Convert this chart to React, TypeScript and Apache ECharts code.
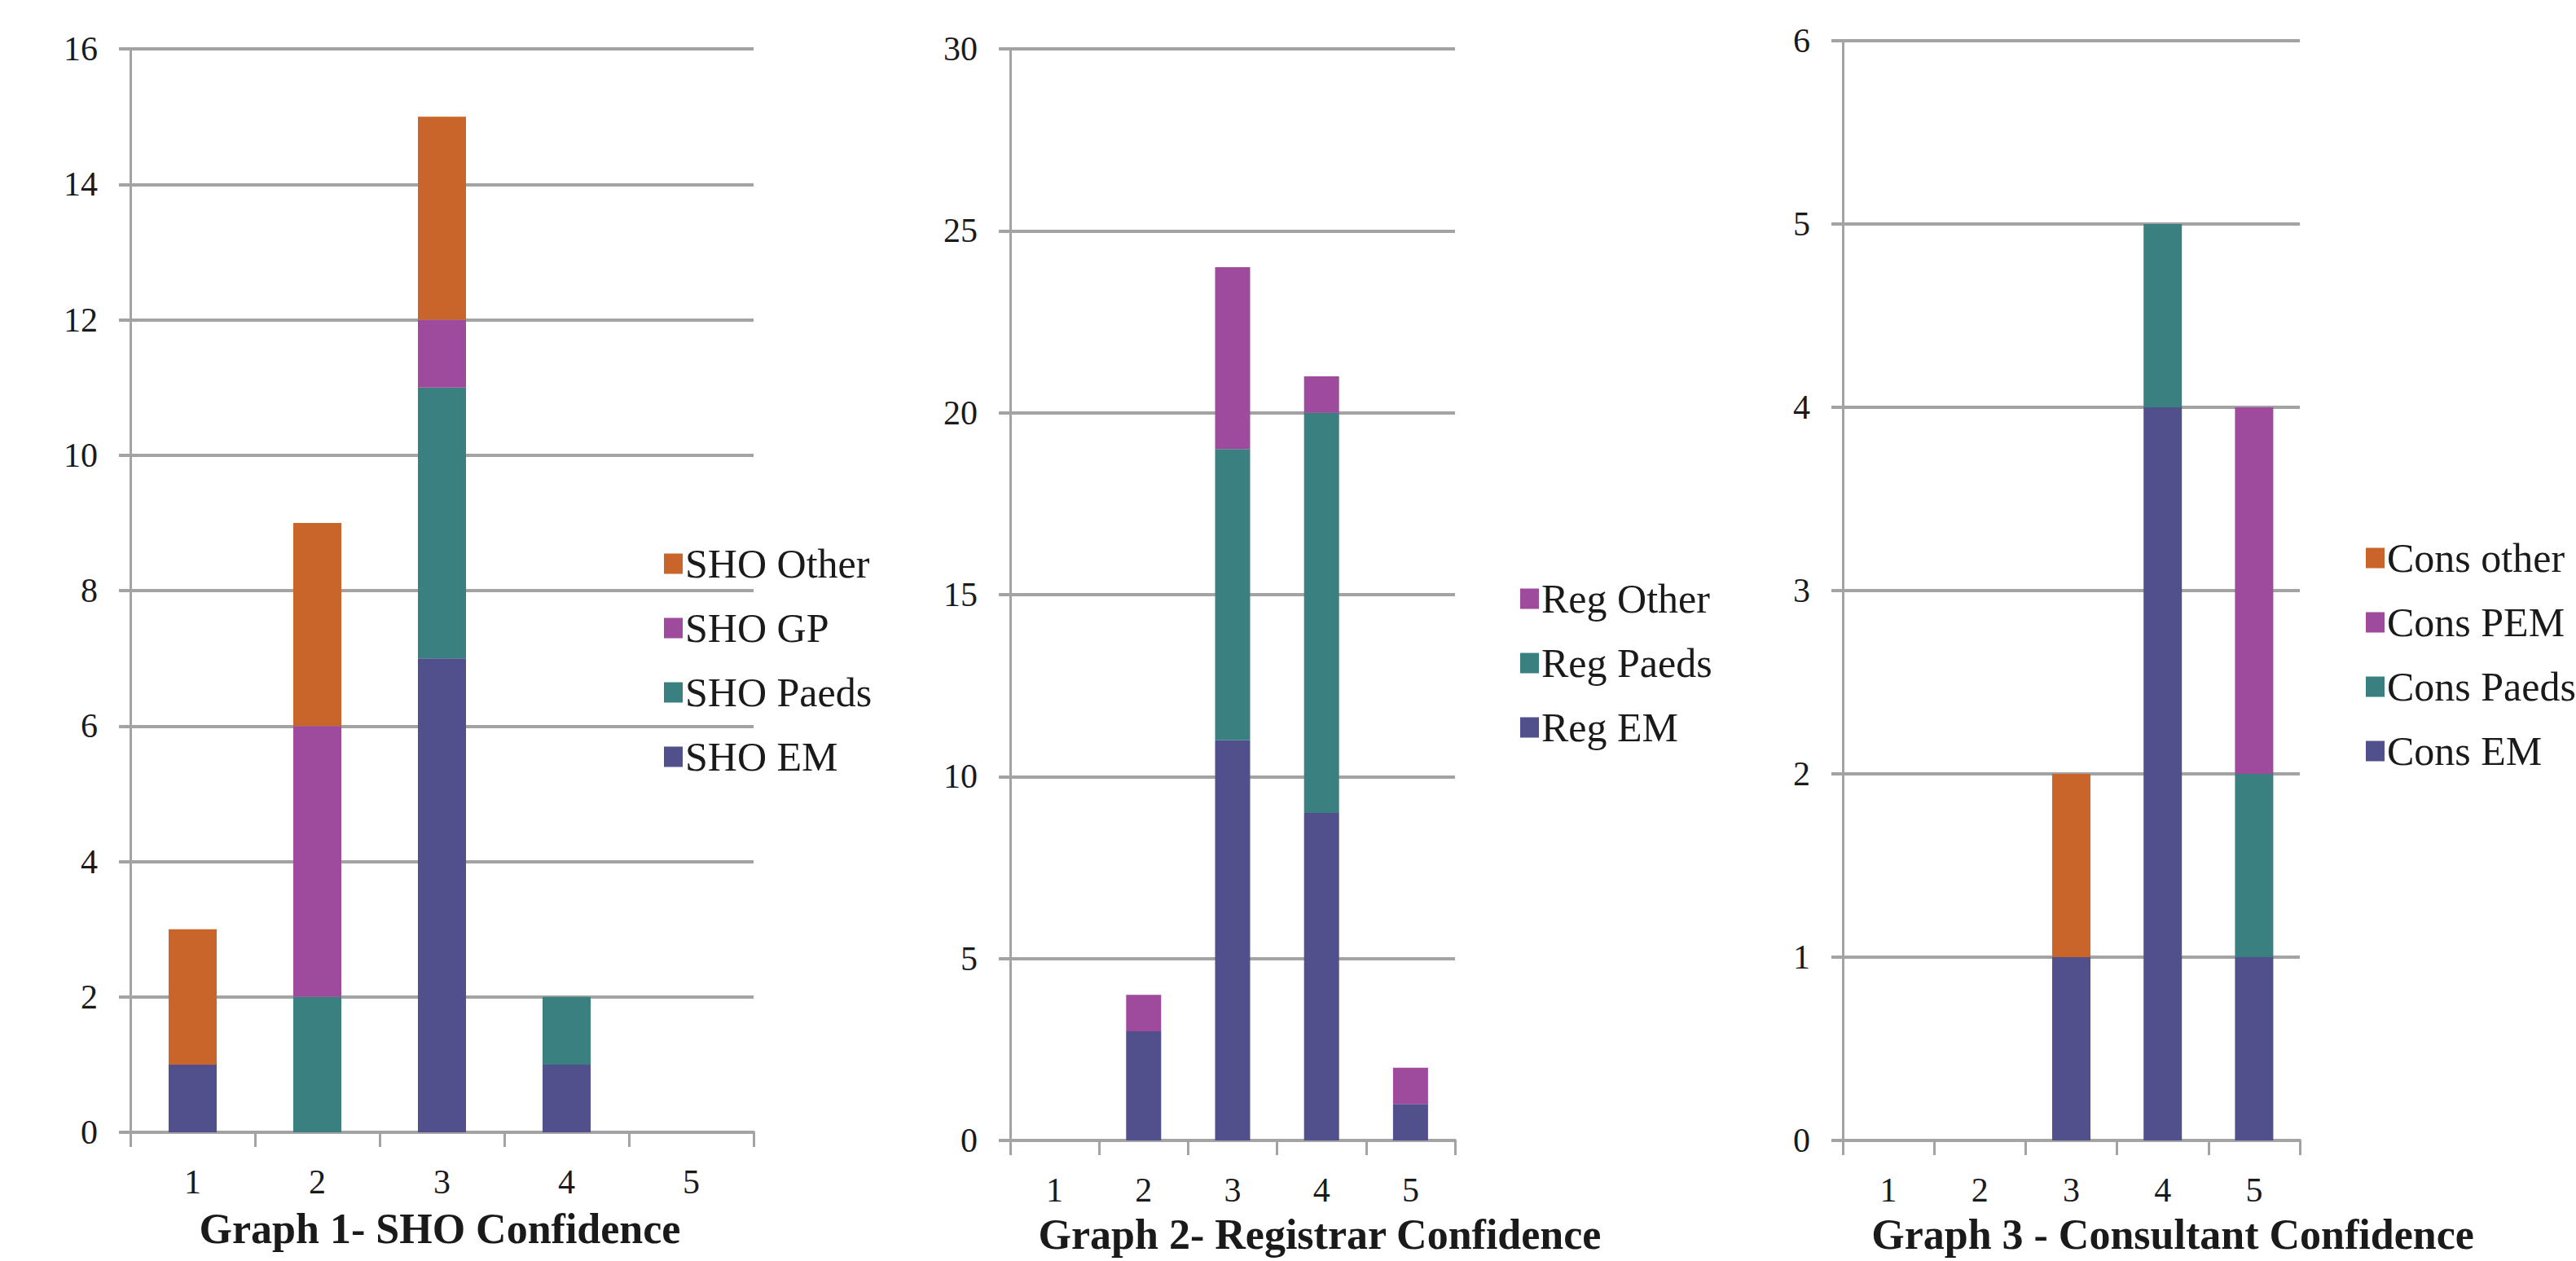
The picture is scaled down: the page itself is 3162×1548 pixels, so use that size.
import React, { useEffect, useRef } from "react";
import * as echarts from "echarts";

// ---- data ----
const categories = ["1", "2", "3", "4", "5"];

const shoEM = [1, 0, 7, 1, 0];
const shoPaeds = [0, 2, 4, 1, 0];
const shoGP = [0, 4, 1, 0, 0];
const shoOther = [2, 3, 3, 0, 0];

const regEM = [0, 3, 11, 9, 1];
const regPaeds = [0, 0, 8, 11, 0];
const regOther = [0, 1, 5, 1, 1];

const consEM = [0, 0, 1, 4, 1];
const consPaeds = [0, 0, 0, 1, 1];
const consPEM = [0, 0, 0, 0, 2];
const consOther = [0, 0, 1, 0, 0];

const titles = [
  "Graph 1- SHO Confidence",
  "Graph 2- Registrar Confidence",
  "Graph 3 - Consultant Confidence",
];

const C_EM = "#524F8D";
const C_PAEDS = "#3B8081";
const C_PURPLE = "#9E4B9E";
const C_ORANGE = "#C9652B";

const FONT = '"Liberation Serif", "Times New Roman", serif';
const GRID_GRAY = "#A3A3A3";
const TEXT = "#1a1a1a";

export default function App() {
  const ref = useRef<HTMLDivElement>(null);

  useEffect(() => {
    document.body.style.margin = "0";
    if (!ref.current) return;
    const chart = echarts.init(ref.current, undefined, { renderer: "svg" });

    const grids = [
      { left: 160, top: 60, width: 765, height: 1330 },
      { left: 1240, top: 60, width: 546, height: 1340 },
      { left: 2262, top: 50, width: 561, height: 1350 },
    ];
    const yMax = [16, 30, 6];
    const yInt = [2, 5, 1];

    const xAxes = grids.map((_, i) => ({
      type: "category",
      gridIndex: i,
      data: categories,
      axisLine: { show: true, lineStyle: { color: GRID_GRAY, width: 4 } },
      axisTick: { show: true, interval: 0, length: 18, lineStyle: { color: GRID_GRAY, width: 3 } },
      axisLabel: { color: TEXT, fontFamily: FONT, fontSize: 42, margin: 40, interval: 0 },
      splitLine: { show: false },
    }));

    const yAxes = grids.map((_, i) => ({
      type: "value",
      gridIndex: i,
      min: 0,
      max: yMax[i],
      interval: yInt[i],
      axisLine: { show: true, lineStyle: { color: GRID_GRAY, width: 3 } },
      axisTick: { show: true, length: 14, lineStyle: { color: GRID_GRAY, width: 4 } },
      axisLabel: { color: TEXT, fontFamily: FONT, fontSize: 42, margin: 40 },
      splitLine: { show: true, lineStyle: { color: GRID_GRAY, width: 4 } },
    }));

    const mk = (name: string, data: number[], idx: number, color: string, stack: string, bw: number) => ({
      name,
      type: "bar",
      xAxisIndex: idx,
      yAxisIndex: idx,
      stack,
      data,
      barWidth: bw,
      itemStyle: { color },
    });

    const series = [
      mk("SHO EM", shoEM, 0, C_EM, "sho", 59),
      mk("SHO Paeds", shoPaeds, 0, C_PAEDS, "sho", 59),
      mk("SHO GP", shoGP, 0, C_PURPLE, "sho", 59),
      mk("SHO Other", shoOther, 0, C_ORANGE, "sho", 59),
      mk("Reg EM", regEM, 1, C_EM, "reg", 43),
      mk("Reg Paeds", regPaeds, 1, C_PAEDS, "reg", 43),
      mk("Reg Other", regOther, 1, C_PURPLE, "reg", 43),
      mk("Cons EM", consEM, 2, C_EM, "cons", 47),
      mk("Cons Paeds", consPaeds, 2, C_PAEDS, "cons", 47),
      mk("Cons PEM", consPEM, 2, C_PURPLE, "cons", 47),
      mk("Cons other", consOther, 2, C_ORANGE, "cons", 47),
    ];

    const legendBase = {
      orient: "vertical",
      icon: "rect",
      itemWidth: 23,
      itemHeight: 25,
      itemGap: 29,
      selectedMode: false,
      textStyle: { color: TEXT, fontFamily: FONT, fontSize: 50, padding: [0, 0, 0, -2] },
    };

    const legends = [
      { ...legendBase, left: 810, top: 662, data: ["SHO Other", "SHO GP", "SHO Paeds", "SHO EM"] },
      { ...legendBase, left: 1861, top: 705, data: ["Reg Other", "Reg Paeds", "Reg EM"] },
      { ...legendBase, left: 2899, top: 655, data: ["Cons other", "Cons PEM", "Cons Paeds", "Cons EM"] },
    ];

    const titlePos = [
      [540, 1508],
      [1620, 1515],
      [2667, 1515],
    ];

    const graphic = titles.map((t, i) => ({
      type: "text",
      x: titlePos[i][0],
      y: titlePos[i][1],
      style: {
        text: t,
        fill: TEXT,
        fontFamily: FONT,
        fontSize: 52,
        fontWeight: "bold",
        align: "center",
        verticalAlign: "middle",
        textAlign: "center",
        textVerticalAlign: "middle",
      },
    }));

    chart.setOption({
      animation: false,
      backgroundColor: "#ffffff",
      textStyle: { fontFamily: FONT },
      grid: grids,
      xAxis: xAxes,
      yAxis: yAxes,
      legend: legends,
      series,
      graphic,
    });

    const onResize = () => chart.resize();
    window.addEventListener("resize", onResize);
    return () => {
      window.removeEventListener("resize", onResize);
      chart.dispose();
    };
  }, []);

  return <div ref={ref} style={{ width: "3162px", height: "1548px" }} />;
}
